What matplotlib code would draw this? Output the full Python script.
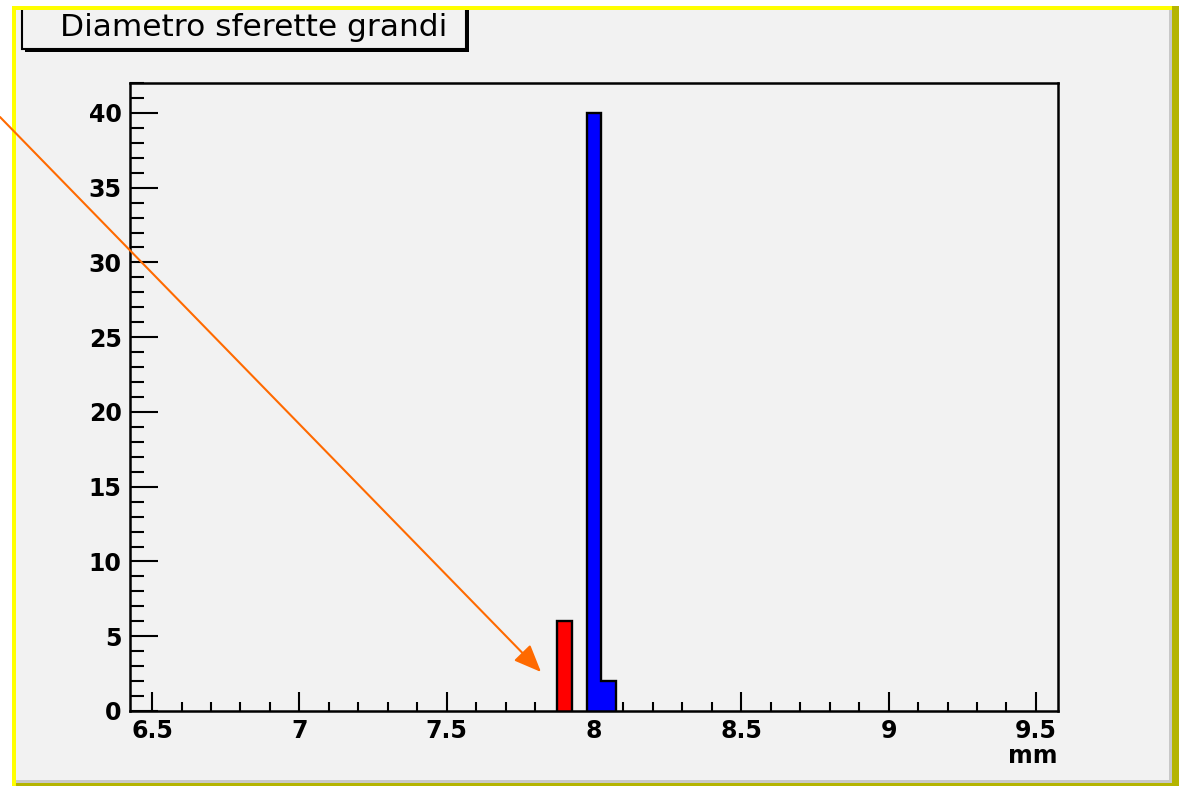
import matplotlib
matplotlib.use("Agg")
import matplotlib.pyplot as plt
from matplotlib.patches import Rectangle
from matplotlib.ticker import MultipleLocator
from matplotlib.text import Annotation

# Histogram of sphere diameters (mm): bin edges and counts
red_edges = [7.875, 7.925]
red_counts = [6]
blue_edges = [7.975, 8.025, 8.075]
blue_counts = [40, 2]

x_range = (6.425, 9.575)
y_max = 42
x_major = [6.5, 7, 7.5, 8, 8.5, 9, 9.5]
x_labels = ["6.5", "7", "7.5", "8", "8.5", "9", "9.5"]
y_major = [0, 5, 10, 15, 20, 25, 30, 35, 40]

title_text = "Diametro sferette grandi"
x_unit = "mm"

W, H = 1179, 786
fig = plt.figure(figsize=(W / 100, H / 100), dpi=100)
fig.patch.set_facecolor("white")

BG = "#f2f2f2"


def px_rect(x0, y0, x1, y1, **kw):
    """Rectangle given in image pixel coords (origin top-left)."""
    r = Rectangle((x0 / W, 1 - y1 / H), (x1 - x0) / W, (y1 - y0) / H,
                  transform=fig.transFigure, **kw)
    fig.patches.append(r)
    return r


# Canvas background and frame
px_rect(16, 10, 1171, 783, facecolor=BG, edgecolor="none", zorder=-2)
px_rect(1169, 10, 1172, 783, facecolor="#c8c8c8", edgecolor="none", zorder=-1)
px_rect(16, 780, 1172, 783, facecolor="#c8c8c8", edgecolor="none", zorder=-1)

# Title box with shadow
px_rect(25, 3, 469, 52, facecolor="black", edgecolor="none", zorder=1)
px_rect(22, 0, 466, 49, facecolor=BG, edgecolor="black", linewidth=1.5, zorder=1.1)
fig.text(254 / W, 1 - 28 / H, title_text, ha="center", va="center",
         fontsize=22.5, family="DejaVu Sans", color="black", zorder=1.2)

# Frame bands drawn over the title box
px_rect(0, 0, W, 6, facecolor="white", edgecolor="none", zorder=2)
px_rect(0, 0, 12, H, facecolor="white", edgecolor="none", zorder=2)
px_rect(12, 6, 1172, 10, facecolor="#ffff00", edgecolor="none", zorder=2.1)
px_rect(12, 6, 16, H, facecolor="#ffff00", edgecolor="none", zorder=2.1)
px_rect(1172, 6, W, H, facecolor="#b4b400", edgecolor="none", zorder=2.2)
px_rect(16, 783, W, H, facecolor="#b4b400", edgecolor="none", zorder=2.2)

# Plot area
ax = fig.add_axes([130 / W, 1 - 711 / H, 928 / W, 628 / H])
ax.set_zorder(0.5)
ax.set_facecolor(BG)
ax.set_xlim(*x_range)
ax.set_ylim(0, y_max)

ax.stairs(red_counts, red_edges, fill=True, facecolor="#ff0000",
          edgecolor="black", linewidth=1.7, baseline=0, zorder=3)
ax.stairs(blue_counts, blue_edges, fill=True, facecolor="#0000ff",
          edgecolor="black", linewidth=1.7, baseline=0, zorder=3)

for s in ["top", "right", "bottom", "left"]:
    ax.spines[s].set_linewidth(1.8)
    ax.spines[s].set_zorder(4)

ax.set_xticks(x_major)
ax.set_xticklabels(x_labels)
ax.xaxis.set_minor_locator(MultipleLocator(0.1))
ax.set_yticks(y_major)
ax.yaxis.set_minor_locator(MultipleLocator(1))

ax.tick_params(axis="x", which="major", direction="in", length=13.5, width=1.5,
               pad=6, labelsize=17, top=False)
ax.tick_params(axis="x", which="minor", direction="in", length=6.5, width=1.5, top=False)
ax.tick_params(axis="y", which="major", direction="in", length=20, width=1.5,
               pad=6, labelsize=17, right=False)
ax.tick_params(axis="y", which="minor", direction="in", length=10, width=1.5, right=False)
for lab in ax.get_xticklabels() + ax.get_yticklabels():
    lab.set_fontweight("bold")
    lab.set_family("DejaVu Sans")

ax.text(1.0, -0.072, x_unit, transform=ax.transAxes, ha="right", va="center",
        fontsize=17, fontweight="bold", family="DejaVu Sans")

# Pointer arrow
arrow = fig.add_artist(
    Annotation(
        "", xy=(541, H - 672), xytext=(0, H - 117),
        xycoords="figure pixels", textcoords="figure pixels",
        arrowprops=dict(arrowstyle="-|>,head_length=1.2,head_width=0.5",
                        color="#ff6a00", linewidth=1.5, mutation_scale=14,
                        shrinkA=0, shrinkB=0),
        annotation_clip=False)
)
arrow.set_zorder(5)

fig.savefig("out.png", dpi=100)
